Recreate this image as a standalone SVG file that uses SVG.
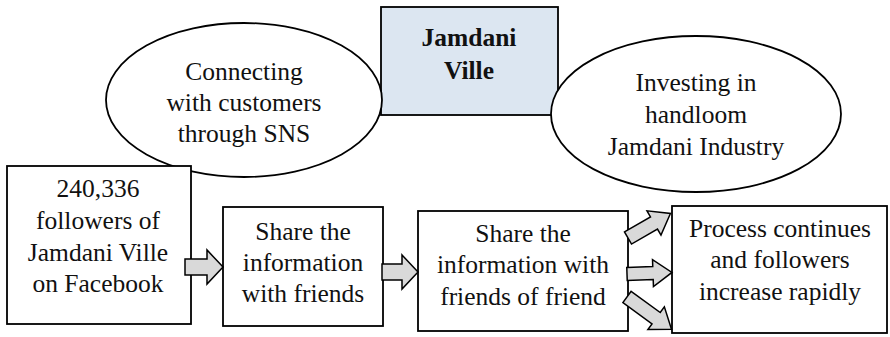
<svg xmlns="http://www.w3.org/2000/svg" width="890" height="337" viewBox="0 0 890 337">
<style>
.n{fill:#ffffff;stroke:#000;stroke-width:1.8}
.t{font-family:"Liberation Serif","Times New Roman",serif;font-size:25.5px;fill:#111;text-anchor:middle}
.b{font-weight:bold}
.a{fill:#d9d9d9;stroke:#000;stroke-width:1.5;stroke-linejoin:miter}
</style>
<rect width="890" height="337" fill="#ffffff"/>
<g id="jamdani-ville">
<rect x="381" y="7" width="177" height="108" fill="#dce6f1" stroke="#000" stroke-width="1.8"/>
<text class="t b" x="469" y="46">Jamdani</text>
<text class="t b" x="469" y="79">Ville</text>
</g>
<g id="connecting">
<ellipse class="n" cx="244" cy="100" rx="138" ry="77"/>
<text class="t" x="244" y="80">Connecting</text>
<text class="t" x="244" y="111">with customers</text>
<text class="t" x="244" y="142">through SNS</text>
</g>
<g id="investing">
<ellipse class="n" cx="696" cy="114" rx="145" ry="78"/>
<text class="t" x="696" y="91">Investing in</text>
<text class="t" x="696" y="123">handloom</text>
<text class="t" x="696" y="155">Jamdani Industry</text>
</g>
<g id="followers">
<rect class="n" x="7" y="166" width="184" height="158"/>
<text class="t" x="98" y="197">240,336</text>
<text class="t" x="98" y="229">followers of</text>
<text class="t" x="98" y="261">Jamdani Ville</text>
<text class="t" x="98" y="292">on Facebook</text>
</g>
<g id="share-friends">
<rect class="n" x="223" y="207" width="160" height="119"/>
<text class="t" x="303" y="240">Share the</text>
<text class="t" x="303" y="271">information</text>
<text class="t" x="303" y="302">with friends</text>
</g>
<g id="share-fof">
<rect class="n" x="418" y="211" width="210" height="120"/>
<text class="t" x="523" y="242">Share the</text>
<text class="t" x="523" y="273">information with</text>
<text class="t" x="523" y="305">friends of friend</text>
</g>
<g id="process">
<rect class="n" x="672" y="206" width="215" height="127"/>
<text class="t" x="780" y="237">Process continues</text>
<text class="t" x="780" y="268">and followers</text>
<text class="t" x="780" y="300">increase rapidly</text>
</g>
<g id="connectors">
<path class="a" transform="translate(185,267)" d="M0,-8 L22,-8 L22,-17 L38,0 L22,17 L22,8 L0,8 Z"/>
<path class="a" transform="translate(382,272)" d="M0,-8 L20,-8 L20,-17 L36,0 L20,17 L20,8 L0,8 Z"/>
<path class="a" transform="translate(628,238) rotate(-30)" d="M0,-7 L30,-7 L30,-14 L49,0 L30,14 L30,7 L0,7 Z"/>
<path class="a" transform="translate(627,274) rotate(-2)" d="M0,-6.5 L26,-6.5 L26,-13.5 L45,0 L26,13.5 L26,6.5 L0,6.5 Z"/>
<path class="a" transform="translate(627,297) rotate(36)" d="M0,-7 L36,-7 L36,-14 L55,0 L36,14 L36,7 L0,7 Z"/>
</g>
</svg>
